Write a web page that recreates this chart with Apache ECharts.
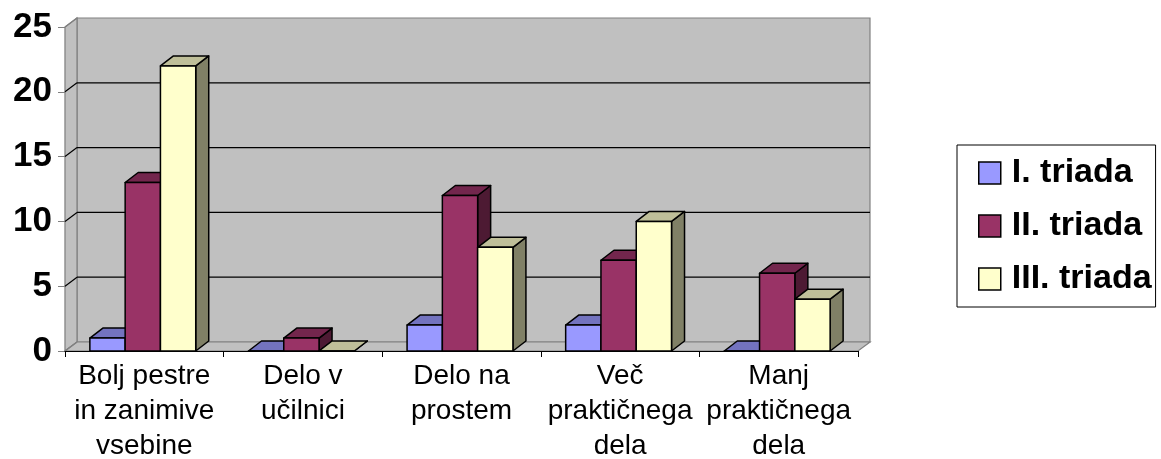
<!DOCTYPE html>
<html>
<head>
<meta charset="utf-8">
<script src="https://cdn.jsdelivr.net/npm/echarts@6/dist/echarts.min.js"></script>
<style>
html,body{margin:0;padding:0;background:#fff;}
#chart{width:1161px;height:459px;}
</style>
</head>
<body>
<div id="chart"></div>
<script>
const categories = ['Bolj pestre\nin zanimive\nvsebine', 'Delo v\nučilnici', 'Delo na\nprostem', 'Več\npraktičnega\ndela', 'Manj\npraktičnega\ndela'];
const seriesNames = ['I. triada', 'II. triada', 'III. triada'];
const triadaI = [1, 0, 2, 2, 0];
const triadaII = [13, 1, 12, 7, 6];
const triadaIII = [22, 0, 8, 10, 4];
const yTicks = [0, 5, 10, 15, 20, 25];

const FONT = "'Liberation Sans', Arial, sans-serif";
const faces = [
  { front: '#9999ff', top: '#7373bf', side: '#4d4d80' },
  { front: '#993366', top: '#73264d', side: '#4d1a33' },
  { front: '#ffffcc', top: '#bfbf99', side: '#808066' }
];
const WALL_DX = 12, WALL_DY = 9;
const BAR_DX = 13, BAR_DY = 10;

function barRenderer(si) {
  const c = faces[si];
  return function (params, api) {
    const ci = api.value(0), v = api.value(1);
    const top = api.coord([ci, v]);
    const base = api.coord([ci, 0]);
    const cw = api.size([1, 0])[0];
    const bw = cw * 0.2225;
    const x0 = top[0] - 1.5 * bw - 1.5 + si * bw;
    const x1 = x0 + bw;
    const yT = top[1], yB = base[1];
    const st = { stroke: '#000', lineWidth: 1.5, lineJoin: 'round' };
    return {
      type: 'group',
      children: [
        { type: 'polygon', shape: { points: [[x1, yB], [x1 + BAR_DX, yB - BAR_DY], [x1 + BAR_DX, yT - BAR_DY], [x1, yT]] }, style: Object.assign({ fill: c.side }, st) },
        { type: 'polygon', shape: { points: [[x0, yT], [x0 + BAR_DX, yT - BAR_DY], [x1 + BAR_DX, yT - BAR_DY], [x1, yT]] }, style: Object.assign({ fill: c.top }, st) },
        { type: 'rect', shape: { x: x0, y: yT, width: bw, height: yB - yT }, style: Object.assign({ fill: c.front }, st) }
      ]
    };
  };
}

function frameRender(params, api) {
  const v = api.value(1);
  const cw = api.size([1, 0])[0];
  const xL = api.coord([0, v])[0] - cw / 2;
  const xR = api.coord([categories.length - 1, v])[0] + cw / 2;
  const y = api.coord([0, v])[1];
  const y0 = api.coord([0, 0])[1];
  const yM = api.coord([0, yTicks[yTicks.length - 1]])[1];
  const children = [];
  const wallSt = { fill: '#c0c0c0', stroke: '#808080', lineWidth: 1.2 };
  if (params.dataIndex === 0) {
    children.push({ type: 'rect', shape: { x: xL + WALL_DX, y: yM - WALL_DY, width: xR - xL, height: y0 - yM }, style: wallSt });
    children.push({ type: 'polygon', shape: { points: [[xL, y0], [xL, yM], [xL + WALL_DX, yM - WALL_DY], [xL + WALL_DX, y0 - WALL_DY]] }, style: wallSt });
    children.push({ type: 'polygon', shape: { points: [[xL, y0], [xR, y0], [xR + WALL_DX, y0 - WALL_DY], [xL + WALL_DX, y0 - WALL_DY]] }, style: wallSt });
  }
  const edge = (v === yTicks[0] || v === yTicks[yTicks.length - 1]);
  const col = edge ? '#808080' : '#000';
  children.push({ type: 'line', shape: { x1: xL, y1: y, x2: xL + WALL_DX, y2: y - WALL_DY }, style: { stroke: col, lineWidth: 1.2 } });
  if (!edge) {
    children.push({ type: 'line', shape: { x1: xL + WALL_DX, y1: y - WALL_DY, x2: xR + WALL_DX, y2: y - WALL_DY }, style: { stroke: '#000', lineWidth: 1.2 } });
  }
  return { type: 'group', children: children };
}

const allValues = [triadaI, triadaII, triadaIII];
const chart = echarts.init(document.getElementById('chart'), null, { renderer: 'canvas' });
chart.setOption({
  animation: false,
  backgroundColor: '#ffffff',
  grid: { left: 65, right: 303, top: 27, bottom: 108, containLabel: false, outerBoundsMode: 'none' },
  legend: {
    left: 957, top: 145, orient: 'vertical',
    icon: 'rect', itemWidth: 22, itemHeight: 22, itemGap: 19,
    padding: [11, 4, 11, 21],
    borderColor: '#000', borderWidth: 1, backgroundColor: '#fff',
    selectedMode: false,
    textStyle: { fontFamily: FONT, fontSize: 34, fontWeight: 'bold', color: '#000', padding: [0, 0, 0, 6] },
    data: seriesNames.map((n, i) => ({ name: n, itemStyle: { color: faces[i].front, borderColor: '#000', borderWidth: 1.5 } }))
  },
  xAxis: {
    type: 'category', data: categories, z: 10,
    axisLine: { lineStyle: { color: '#000', width: 1.2 } },
    axisTick: { show: true, length: 6, lineStyle: { color: '#000' } },
    axisLabel: { interval: 0, fontFamily: FONT, fontSize: 28, lineHeight: 35, color: '#000', margin: 8 },
    splitLine: { show: false }
  },
  yAxis: {
    type: 'value', min: 0, max: 25, interval: 5,
    axisLine: { show: true, lineStyle: { color: '#808080', width: 1.2 } },
    axisTick: { show: true, length: 7, lineStyle: { color: '#808080' } },
    axisLabel: { fontFamily: FONT, fontSize: 35, fontWeight: 'bold', color: '#000', margin: 13 },
    splitLine: { show: false }
  },
  series: [
    { name: '_frame', type: 'custom', z: 1, silent: true, renderItem: frameRender, data: yTicks.map(v => [0, v]), encode: { x: 0, y: 1 } }
  ].concat(seriesNames.map((n, i) => ({
    name: n, type: 'custom', z: 2, renderItem: barRenderer(i),
    itemStyle: { color: faces[i].front, borderColor: '#000', borderWidth: 1.5 },
    data: allValues[i].map((v, ci) => [ci, v]), encode: { x: 0, y: 1 }
  })))
});
</script>
</body>
</html>
